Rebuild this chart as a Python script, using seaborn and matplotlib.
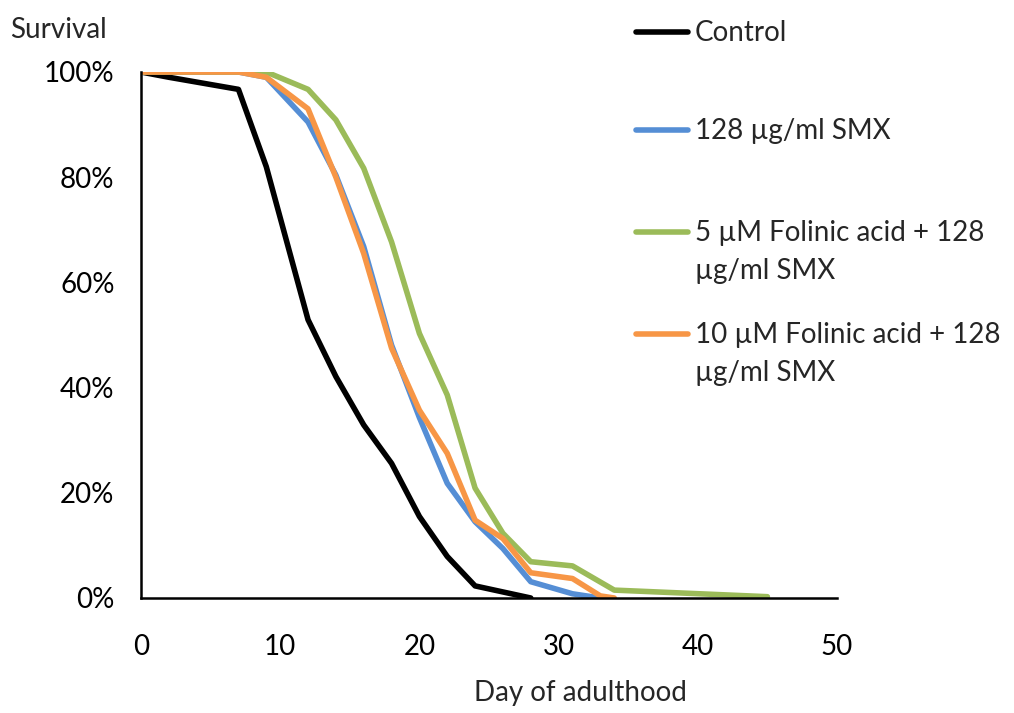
import matplotlib
matplotlib.use("Agg")
import matplotlib.pyplot as plt
import seaborn as sns
import pandas as pd
from matplotlib.lines import Line2D
from matplotlib.ticker import FuncFormatter, MultipleLocator

sns.set_theme(style="white")
plt.rcParams['font.family'] = ['Lato', 'DejaVu Sans']

series_names = ["Control", "128 µg/ml SMX",
                "5 µM Folinic acid + 128\nµg/ml SMX",
                "10 µM Folinic acid + 128\nµg/ml SMX"]
colors = ["#000000", "#558ED5", "#9BBB59", "#F79646"]

control_days = [0, 2, 7, 9, 12, 14, 16, 18, 20, 22, 24, 28]
control_surv = [100, 99, 96.7, 82, 52.9, 42.1, 32.9, 25.6, 15.5, 7.9, 2.3, 0]

smx_days = [0, 7, 9, 12, 14, 16, 18, 20, 22, 24, 26, 28, 31, 33]
smx_surv = [100, 100, 99, 90.5, 80.4, 66.8, 48.1, 34.3, 21.8, 14.5, 9.4, 3.1, 0.8, 0]

fa5_days = [0, 9, 12, 14, 16, 18, 20, 22, 24, 26, 28, 31, 34, 45]
fa5_surv = [100, 100, 96.7, 90.9, 81.7, 67.7, 50.3, 38.6, 20.9, 12.3, 6.9, 6.1, 1.5, 0.25]

fa10_days = [0, 7, 9, 12, 14, 16, 18, 20, 22, 24, 26, 28, 31, 33, 34]
fa10_surv = [100, 100, 99, 93, 80, 65.5, 47.5, 35.7, 27.5, 14.8, 11.3, 4.8, 3.7, 0.4, 0]

frames = []
for name, d, s in zip(series_names,
                      [control_days, smx_days, fa5_days, fa10_days],
                      [control_surv, smx_surv, fa5_surv, fa10_surv]):
    frames.append(pd.DataFrame({"day": d, "survival": s, "group": name}))
df = pd.concat(frames, ignore_index=True)

FS = 20

fig = plt.figure(figsize=(10.14, 7.13), dpi=100)
ax = fig.add_axes([141/1014, 1 - 598/713, (837-141)/1014, (598-72)/713])

sns.lineplot(data=df, x="day", y="survival", hue="group", hue_order=series_names,
             palette=colors, linewidth=4, ax=ax, legend=False, sort=False,
             estimator=None, solid_capstyle="round")

ax.set_xlim(0, 50)
ax.set_ylim(0, 100)
ax.xaxis.set_major_locator(MultipleLocator(10))
ax.yaxis.set_major_locator(MultipleLocator(20))
ax.yaxis.set_major_formatter(FuncFormatter(lambda v, p: f"{int(round(v))}%"))
for sp in ["top", "right"]:
    ax.spines[sp].set_visible(False)
for sp in ["left", "bottom"]:
    ax.spines[sp].set_color("black")
    ax.spines[sp].set_linewidth(1.8)
ax.tick_params(axis="both", which="major", direction="out", length=7, width=1.8,
               colors="black", labelsize=FS)
ax.tick_params(axis="x", pad=19)
ax.tick_params(axis="y", pad=12)
ax.set_xlabel("")
ax.set_ylabel("")
ax.grid(False)

fig.text(10/1014, 1 - 30/713, "Survival", fontsize=FS, ha="left", va="center")
fig.text(580/1014, 1 - 693/713, "Day of adulthood", fontsize=FS, ha="center", va="center")

# legend drawn manually
leg_y = [32, 130, 232, 334]
for name, c, y in zip(series_names, colors, leg_y):
    fig.add_artist(Line2D([636/1014, 688/1014], [1 - y/713, 1 - y/713],
                          color=c, linewidth=4, solid_capstyle="round",
                          transform=fig.transFigure))
    fig.text(695/1014, 1 - (y - 12)/713, name, fontsize=FS, ha="left", va="top",
             linespacing=1.55)

fig.savefig("out.png", dpi=100)
